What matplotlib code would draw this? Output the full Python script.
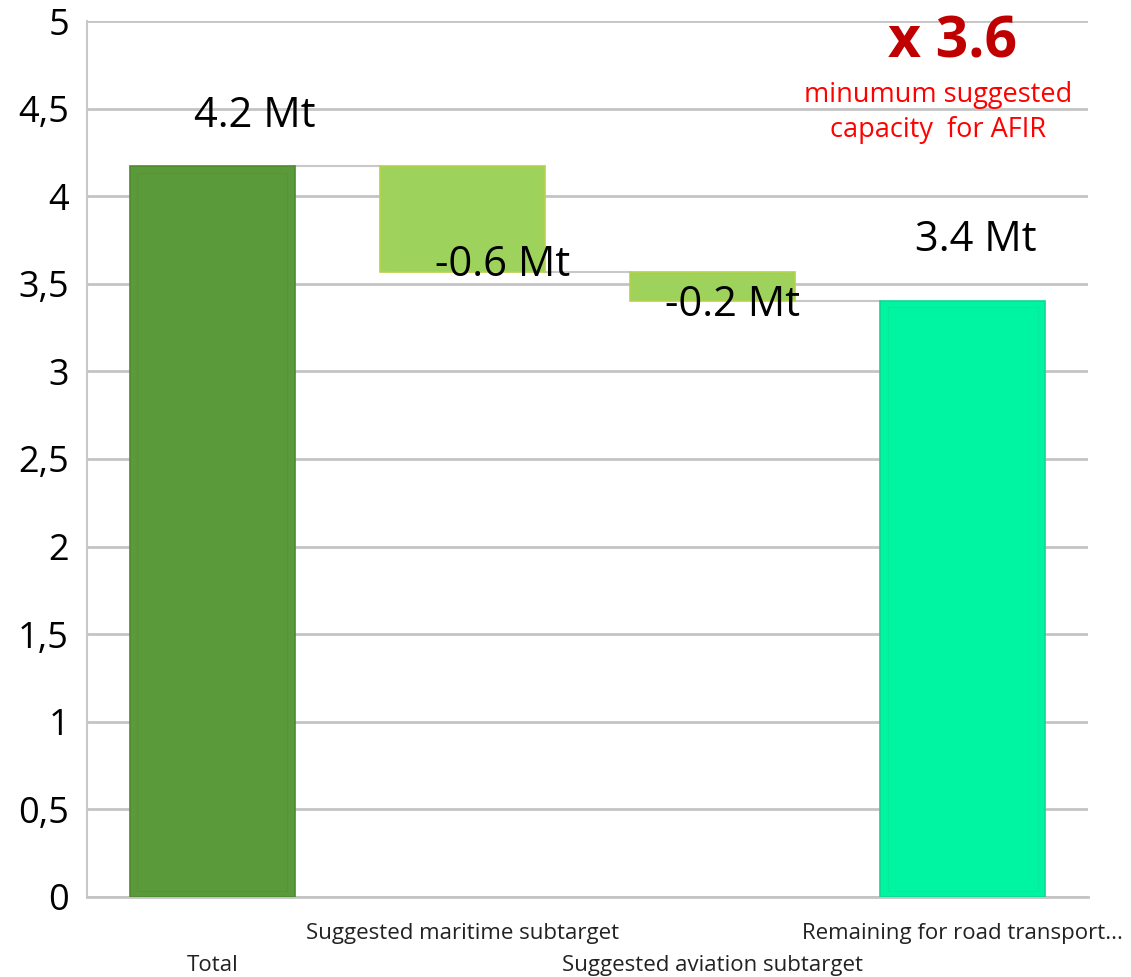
import matplotlib
matplotlib.use("Agg")
import matplotlib.pyplot as plt
from matplotlib.patches import Rectangle

categories = ["Total", "Suggested maritime subtarget", "Suggested aviation subtarget",
              "Remaining for road transport..."]
changes = [4.17, -0.60, -0.17, 3.40]   # first and last are totals
kinds = ["total", "delta", "delta", "total"]
value_labels = ["4.2 Mt", "-0.6 Mt", "-0.2 Mt", "3.4 Mt"]
yticks = [0, 0.5, 1, 1.5, 2, 2.5, 3, 3.5, 4, 4.5, 5]
ytick_labels = ["0", "0,5", "1", "1,5", "2", "2,5", "3", "3,5", "4", "4,5", "5"]

colors = ["#5b9a3a", "#9dd35c", "#9dd35c", "#00f5a2"]
edgecolors = ["#4f8a32", "#b5d24a", "#b5d24a", "#10d890"]

plt.rcParams['font.family'] = ['Open Sans', 'DejaVu Sans']

fig = plt.figure(figsize=(11.31, 9.77), dpi=100)
ax = fig.add_axes([0.077, 0.082, 0.885, 0.8965])

# compute waterfall bottoms/tops
bottoms, heights, tops = [], [], []
running = 0.0
for c, k in zip(changes, kinds):
    if k == "total":
        bottoms.append(0.0)
        heights.append(c)
        running = c
    else:
        new = running + c
        bottoms.append(min(running, new))
        heights.append(abs(c))
        running = new
    tops.append(running)

width = 0.66
x = list(range(len(categories)))
ax.bar(x, heights, bottom=bottoms, width=width, color=colors,
       edgecolor=edgecolors, linewidth=1.2, zorder=3)
# subtle inner glossy border
for xi, b, h, ec in zip(x, bottoms, heights, edgecolors):
    pad_x = 0.03
    pad_y = 0.035
    ax.add_patch(Rectangle((xi - width / 2 + pad_x, b + pad_y), width - 2 * pad_x,
                           max(h - 2 * pad_y, 0.01), fill=False, edgecolor=ec,
                           linewidth=1.0, alpha=0.35, zorder=4))

# connector lines
for i in range(len(categories) - 1):
    ax.plot([x[i] + width / 2, x[i + 1] - width / 2], [tops[i], tops[i]],
            color="#c8c8c8", linewidth=1.5, zorder=2)

ax.set_xlim(-0.5, 3.5)
ax.set_ylim(0, 5)
ax.set_yticks(yticks)
ax.set_yticklabels(ytick_labels, fontsize=26)
ax.yaxis.grid(True, color="#c4c4c4", linewidth=2, zorder=0)
ax.set_axisbelow(True)
ax.tick_params(axis="y", length=0, pad=13)
ax.tick_params(axis="x", length=0)
for s in ["top", "right"]:
    ax.spines[s].set_visible(False)
ax.spines["left"].set_color("#c8c8c8")
ax.spines["left"].set_linewidth(1.5)
ax.spines["bottom"].set_color("#c4c4c4")
ax.spines["bottom"].set_linewidth(2)

ax.set_xticks(x)
ax.set_xticklabels([])
for i, cat in enumerate(categories):
    yoff = -0.21 if i % 2 == 1 else -0.39
    ax.text(x[i], yoff, cat, ha="center", va="center", fontsize=16, color="#222222",
            clip_on=False)

# value labels
label_pos = [(0.17, 4.46), (1.16, 3.61), (2.08, 3.38), (3.05, 3.75)]
for (lx, ly), lab in zip(label_pos, value_labels):
    ax.text(lx, ly, lab, ha="center", va="center", fontsize=30, color="black", zorder=5)

ax.text(2.96, 4.88, "x 3.6", ha="center", va="center", fontsize=41, fontweight="bold",
        color="#c00000", zorder=5)
ax.text(2.9, 4.58, "minumum suggested", ha="center", va="center", fontsize=19.5,
        color="#ff0000", zorder=5)
ax.text(2.9, 4.38, "capacity  for AFIR", ha="center", va="center", fontsize=19.5,
        color="#ff0000", zorder=5)

fig.savefig("out.png", dpi=100)
